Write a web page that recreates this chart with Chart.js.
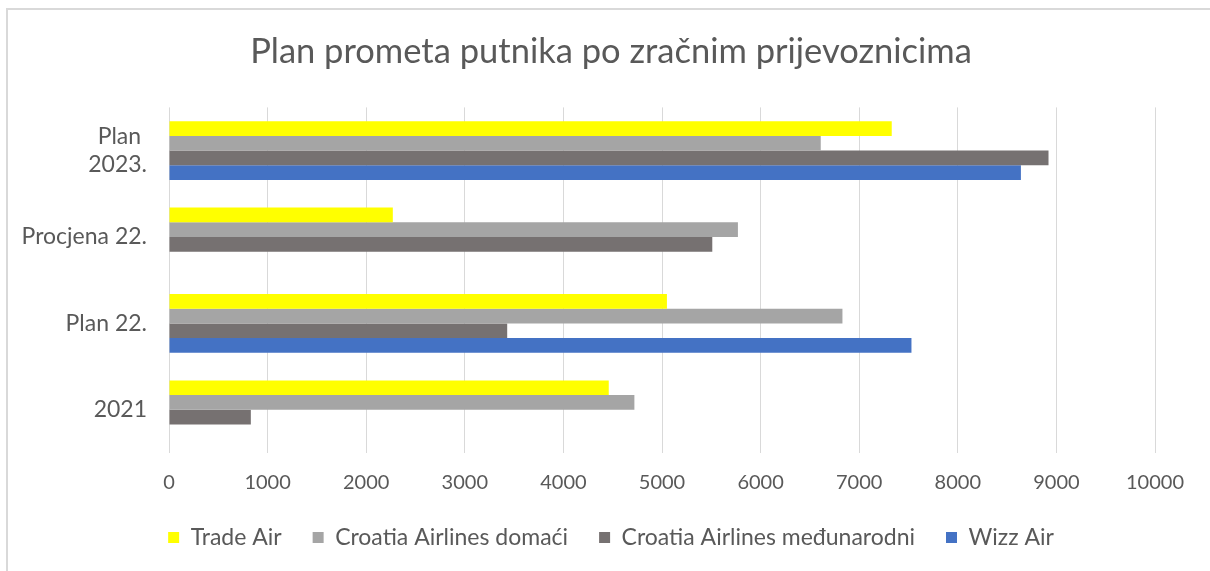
<!DOCTYPE html>
<html>
<head>
<meta charset="utf-8">
<script src="https://cdn.jsdelivr.net/npm/chart.js@4.4.1/dist/chart.umd.min.js"></script>
<style>
  html, body { margin: 0; padding: 0; background: #ffffff; }
  #wrap { width: 1210px; height: 571px; position: relative; }
</style>
</head>
<body>
<div id="wrap"><canvas id="c" width="1210" height="571"></canvas></div>
<script>
const categories = [['Plan ', '2023.'], 'Procjena 22.', 'Plan 22.', '2021'];
const seriesNames = ['Trade Air', 'Croatia Airlines domaći', 'Croatia Airlines međunarodni', 'Wizz Air'];
const tradeAir = [7330, 2270, 5050, 4460];
const caDomaci = [6610, 5770, 6830, 4720];
const caMedjunarodni = [8920, 5510, 3430, 830];
const wizzAir = [8640, null, 7530, null];
const xTicks = [0, 1000, 2000, 3000, 4000, 5000, 6000, 7000, 8000, 9000, 10000];

const colors = ['#FFFF00', '#A5A5A5', '#767171', '#4472C4'];
const textColor = '#595959';
const FONT = "Lato, 'Open Sans', sans-serif";

const frame = {
  id: 'frame',
  beforeDraw(chart) {
    const ctx = chart.ctx;
    ctx.save();
    ctx.fillStyle = '#ffffff';
    ctx.fillRect(0, 0, chart.width, chart.height);
    ctx.strokeStyle = '#d9d9d9';
    ctx.lineWidth = 2;
    ctx.beginPath();
    ctx.moveTo(7, chart.height);
    ctx.lineTo(7, 9);
    ctx.lineTo(chart.width, 9);
    ctx.stroke();
    ctx.restore();
  }
};

const allSeries = [tradeAir, caDomaci, caMedjunarodni, wizzAir];
new Chart(document.getElementById('c'), {
  type: 'bar',
  data: {
    labels: categories,
    datasets: seriesNames.map((n, i) => ({
      label: n,
      data: allSeries[i],
      backgroundColor: colors[i],
      borderWidth: 0,
      categoryPercentage: 0.68,
      barPercentage: 1.0
    }))
  },
  options: {
    indexAxis: 'y',
    responsive: false,
    animation: false,
    layout: { padding: { left: 12, right: 0, top: 0, bottom: 12 } },
    plugins: {
      title: {
        display: true,
        text: 'Plan prometa putnika po zračnim prijevoznicima',
        color: textColor,
        font: { family: FONT, size: 34.5, weight: 'normal' },
        padding: { top: 31, bottom: 35 }
      },
      legend: {
        position: 'bottom',
        labels: {
          color: textColor,
          font: { family: FONT, size: 23 },
          boxWidth: 11,
          boxHeight: 11,
          padding: 31
        }
      },
      tooltip: { enabled: false }
    },
    scales: {
      x: {
        min: 0,
        max: 10000,
        afterBuildTicks(scale) { scale.ticks = xTicks.map(v => ({ value: v })); },
        afterFit(scale) { scale.height = 42; scale.paddingRight = 55; },
        grid: { color: '#d9d9d9', lineWidth: 1, drawTicks: false },
        border: { display: false },
        ticks: { color: textColor, font: { family: FONT, size: 20 }, padding: 18, maxRotation: 0,
                 callback: (v) => String(v) }
      },
      y: {
        afterFit(scale) { scale.width = 157; },
        grid: { display: false },
        border: { display: false },
        ticks: { color: textColor, font: { family: FONT, size: 23 }, padding: 14 }
      }
    }
  },
  plugins: [frame]
});
</script>
</body>
</html>
